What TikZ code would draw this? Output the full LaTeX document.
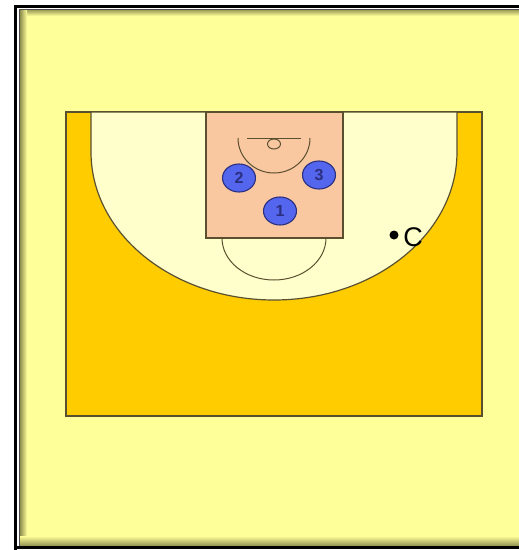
\documentclass[tikz,border=0pt]{standalone}
\usepackage{fontspec}
\setmainfont{Liberation Sans}
\definecolor{paper}{HTML}{FFFF99}
\definecolor{court}{HTML}{FFCC00}
\definecolor{inner}{HTML}{FFFFCC}
\definecolor{keyc}{HTML}{FAC8A0}
\definecolor{line}{HTML}{5A5030}
\definecolor{shade}{HTML}{8F8F50}
\definecolor{pl}{HTML}{5566EE}
\definecolor{pld}{HTML}{2A2F80}
\tikzset{
  player/.style={ellipse,draw=pld,line width=1.1pt,fill=pl,text=pld,minimum width=33pt,minimum height=28pt,inner sep=0pt,font=\fontsize{16}{16}\selectfont\bfseries},
  courtline/.style={draw=line,line width=1.2pt},
  thin arc/.style={draw=line,line width=1pt}
}
\usetikzlibrary{shapes.geometric}
\begin{document}
\begin{tikzpicture}[x=1pt,y=-1pt]
\useasboundingbox (0,0) rectangle (519,550);
\fill[white] (0,0) rectangle (519,550);
% frame
\fill[paper] (20,10) rectangle (519,545);
\shade[top color=shade,bottom color=paper] (20,9) rectangle (519,16);
\shade[left color=shade,right color=paper] (20,9) rectangle (27,545);
\shade[bottom color=shade,top color=paper] (20,536) rectangle (519,546);
\fill[black] (14,5) rectangle (519,8);
\fill[black] (14,5) rectangle (17,550);
\fill[black!70] (19,9) rectangle (519,10);
\fill[black!70] (19,9) rectangle (20,546);
\fill[black] (17,546) rectangle (519,548.5);
% court
\filldraw[courtline,fill=court] (66,112) rectangle (482,416);
\filldraw[courtline,fill=inner] (91,112) -- (91,152) arc[start angle=180,end angle=0,x radius=183,y radius=148] -- (457,112) -- cycle;
\filldraw[courtline,fill=keyc] (206,112.5) rectangle (343,238);
\draw[thin arc] (222,238) arc[start angle=180,end angle=0,x radius=52,y radius=42];
\draw[thin arc] (238,138) arc[start angle=180,end angle=0,x radius=36,y radius=35];
\draw[thin arc] (247,138) -- (301,138);
\draw[thin arc] (274,144) ellipse[x radius=6.5,y radius=5];
% players
\node[player] (p2) at (239,178) {2};
\node[player] (p3) at (319,175) {3};
\node[player] (p1) at (280,211) {1};
% coach
\node[circle,fill=black,minimum size=9pt,inner sep=0pt] (dot) at (394,235) {};
\node[font=\fontsize{27}{27}\selectfont,inner sep=0pt] (coach) at (413,237) {C};
\end{tikzpicture}
\end{document}
